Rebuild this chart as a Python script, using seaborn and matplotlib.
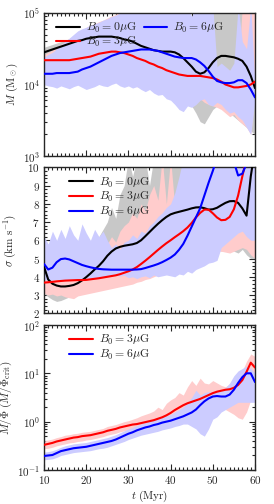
import numpy as np
import pandas as pd
import matplotlib
matplotlib.use("Agg")
import matplotlib.pyplot as plt
import seaborn as sns
from matplotlib.ticker import MultipleLocator, LogLocator, NullFormatter

sns.set_style("ticks")
plt.rcParams["font.family"] = "serif"
plt.rcParams["font.serif"] = ["cmr10", "DejaVu Serif"]
plt.rcParams["mathtext.fontset"] = "cm"
plt.rcParams["axes.formatter.use_mathtext"] = True
plt.rcParams["axes.unicode_minus"] = False

# time axis (Myr)
t = np.arange(10, 61)

# ---------- Panel 1: log10 mass (Msun) ----------
logM_0 = [4.45,4.47,4.49,4.51,4.53,4.55,4.57,4.59,4.61,4.62,
          4.64,4.65,4.66,4.67,4.67,4.67,4.67,4.66,4.65,4.63,
          4.62,4.60,4.57,4.54,4.52,4.50,4.48,4.47,4.46,4.46,
          4.46,4.45,4.42,4.37,4.31,4.25,4.18,4.15,4.17,4.23,
          4.31,4.37,4.40,4.40,4.39,4.38,4.36,4.33,4.25,4.12,3.95]
logM_3 = [4.34,4.34,4.34,4.34,4.34,4.34,4.34,4.35,4.36,4.37,
          4.38,4.39,4.41,4.43,4.44,4.45,4.46,4.46,4.45,4.44,
          4.42,4.40,4.37,4.35,4.33,4.30,4.28,4.25,4.23,4.20,
          4.18,4.16,4.14,4.13,4.12,4.12,4.12,4.12,4.11,4.10,
          4.09,4.07,4.04,4.00,3.98,3.96,3.96,3.97,3.98,4.00,4.04]
logM_6 = [4.15,4.15,4.15,4.16,4.16,4.16,4.16,4.17,4.18,4.21,
          4.23,4.25,4.28,4.31,4.34,4.37,4.40,4.42,4.44,4.45,
          4.46,4.47,4.48,4.49,4.49,4.49,4.48,4.47,4.45,4.43,
          4.41,4.39,4.38,4.37,4.37,4.37,4.35,4.31,4.26,4.19,
          4.11,4.05,4.03,4.02,4.02,4.03,4.06,4.06,4.02,3.93,3.82]
logM_0_lo = [4.36,4.37,4.38,4.40,4.41,4.43,4.44,4.46,4.47,4.49,
             4.50,4.51,4.51,4.52,4.50,4.45,4.40,4.32,4.25,4.20,
             4.15,4.10,4.05,3.98,3.95,3.98,3.95,3.92,3.90,3.88,
             3.85,3.82,3.75,3.80,3.82,3.70,3.60,3.48,3.45,3.55,
             3.65,3.70,3.68,3.62,3.60,3.55,3.50,3.45,3.40,3.35,3.30]
logM_0_hi = [4.52,4.54,4.56,4.58,4.60,4.62,4.64,4.67,4.70,4.72,
             4.74,4.76,4.78,4.80,4.82,4.84,4.86,4.88,4.91,4.94,
             4.97,5.10,5.10,5.10,5.10,5.10,5.10,5.10,5.10,5.10,
             5.10,5.10,5.10,5.10,4.95,4.85,4.90,5.10,5.10,5.10,
             5.10,5.10,5.10,5.10,5.10,5.10,5.10,5.10,5.10,5.10,5.10]
logM_3_lo = [4.05,4.03,4.02,4.00,4.02,4.03,4.02,4.05,4.06,4.04,
             4.03,4.05,4.04,4.06,4.05,4.10,4.12,4.08,4.05,4.02,
             4.00,3.98,3.97,3.95,3.96,3.98,3.95,3.92,3.90,3.92,
             3.88,3.85,3.85,3.80,3.82,3.75,3.78,3.80,3.75,3.72,
             3.70,3.68,3.65,3.60,3.55,3.58,3.50,3.45,3.40,3.30,3.90]
logM_3_hi = [4.42,4.45,4.48,4.52,4.56,4.60,4.64,4.68,4.72,4.76,
             4.80,4.83,4.85,4.88,4.90,4.93,4.96,4.98,5.10,5.10,
             5.10,5.10,5.10,5.10,5.10,5.10,5.10,5.10,5.10,5.10,
             5.10,5.10,5.10,5.10,4.60,4.60,4.20,4.18,4.15,4.15,
             4.12,4.12,4.10,4.10,4.12,4.15,4.20,5.10,5.10,5.10,5.10]
logM_6_lo = [4.00,3.98,3.97,3.95,3.98,3.96,3.94,3.97,3.99,3.96,
             3.93,3.95,3.97,4.00,3.98,3.97,4.00,4.02,3.98,3.96,
             3.98,3.95,3.97,3.93,3.90,3.93,3.88,3.85,3.86,3.80,
             3.78,3.72,3.65,3.62,3.70,3.68,3.72,3.78,3.80,3.72,
             3.70,3.75,3.72,3.65,3.60,3.62,3.55,3.50,3.40,3.30,3.80]
logM_6_hi = [4.38,4.42,4.45,4.50,4.55,4.60,4.65,4.70,4.75,4.78,
             4.80,4.83,4.85,4.87,4.90,4.92,4.95,4.97,5.00,5.10,
             5.10,5.10,5.10,5.10,5.10,5.10,5.10,5.10,5.10,5.10,
             5.10,5.10,5.10,5.10,5.10,4.95,5.10,5.10,5.10,5.10,
             5.10,4.25,4.30,4.25,4.20,4.30,5.10,4.60,4.50,5.10,4.00]

# ---------- Panel 2: velocity dispersion (km/s) ----------
sig_0 = [4.55,3.85,3.62,3.52,3.47,3.47,3.50,3.55,3.65,3.80,
         3.98,4.18,4.40,4.60,4.85,5.15,5.38,5.55,5.64,5.70,
         5.74,5.78,5.85,6.00,6.22,6.45,6.68,6.90,7.10,7.28,
         7.42,7.50,7.56,7.62,7.68,7.75,7.80,7.81,7.76,7.68,
         7.70,7.78,7.92,8.05,8.14,8.15,8.05,7.75,7.35,9.50,11.0]
sig_3 = [3.68,3.70,3.72,3.75,3.77,3.79,3.80,3.81,3.82,3.82,
         3.83,3.86,3.89,3.92,3.96,4.00,4.04,4.08,4.14,4.22,
         4.30,4.40,4.53,4.70,4.88,5.07,5.27,5.47,5.66,5.84,
         6.00,6.17,6.33,6.50,6.70,6.95,7.25,7.50,7.68,7.68,
         7.48,7.25,7.10,7.12,7.28,7.70,8.45,9.50,10.5,11.0,11.0]
sig_6 = [4.70,4.40,4.50,4.80,4.97,5.00,4.95,4.85,4.75,4.65,
         4.58,4.52,4.47,4.43,4.41,4.40,4.39,4.39,4.39,4.39,
         4.39,4.39,4.40,4.42,4.48,4.55,4.62,4.70,4.80,4.92,
         5.05,5.22,5.48,5.80,6.25,6.75,7.25,7.75,8.45,9.15,
         9.80,10.5,11.0,11.0,11.0,10.3,9.55,9.65,10.2,11.0,11.0]
sig_0_lo = [3.10,2.90,2.75,2.65,2.70,2.80,2.90,3.00,3.10,3.20,
            3.35,3.50,3.65,3.80,4.00,4.20,4.40,4.60,4.80,4.90,
            5.00,5.00,4.90,4.95,5.10,5.20,5.35,5.50,5.60,5.70,
            5.80,5.80,5.60,5.50,5.70,5.60,5.50,5.60,5.40,5.50,
            5.50,5.60,5.40,5.50,5.60,5.40,5.30,5.50,5.20,5.00,5.00]
sig_0_hi = [5.00,4.80,4.60,4.50,4.60,4.70,4.80,4.90,5.00,5.20,
            5.40,5.60,5.80,6.20,6.60,7.00,7.80,7.20,8.50,9.00,
            10.5,9.50,10.5,10.0,10.5,9.00,10.5,10.5,9.80,10.5,
            10.5,10.5,10.5,10.5,10.5,10.5,10.5,10.5,10.5,10.5,
            10.5,10.5,10.5,10.5,10.5,10.5,10.5,10.5,10.5,10.5,10.5]
sig_3_lo = [3.10,3.00,3.05,2.95,3.00,2.90,2.85,2.80,2.95,3.00,
            3.05,3.10,3.15,3.20,3.25,3.30,3.35,3.40,3.45,3.50,
            3.55,3.60,3.70,3.75,3.85,3.90,4.00,4.10,4.15,4.20,
            4.30,4.40,4.50,4.60,4.70,4.80,4.90,5.00,5.10,5.20,
            5.30,5.40,5.40,5.35,5.30,5.40,5.50,5.60,5.50,5.20,5.00]
sig_3_hi = [4.30,4.40,4.50,4.40,4.60,4.50,4.70,4.60,4.80,4.70,
            4.90,5.00,5.20,5.30,5.50,5.80,6.20,5.90,6.50,6.80,
            7.00,7.50,7.20,8.00,7.60,8.50,9.00,8.20,10.5,8.00,
            10.5,7.80,8.50,7.50,8.00,10.5,8.00,7.50,7.00,7.50,
            8.00,7.50,7.50,7.00,7.50,7.00,7.50,7.00,10.5,10.5,10.5]
sig_6_lo = [3.85,3.80,3.82,3.86,3.80,3.84,3.82,3.86,3.84,3.88,
            3.90,3.92,3.95,3.97,4.00,4.02,4.05,4.07,4.05,4.08,
            3.95,4.00,3.90,4.00,4.05,3.95,4.10,4.00,4.05,4.10,
            4.05,4.00,4.15,4.10,4.30,4.20,4.40,4.50,4.60,4.75,
            4.80,4.90,5.60,5.80,6.00,6.20,6.40,6.50,6.20,6.00,6.00]
sig_6_hi = [6.20,5.80,6.50,6.00,6.60,6.10,6.80,6.30,6.00,6.90,
            6.40,6.00,6.60,6.20,6.50,6.00,5.60,5.80,5.50,5.90,
            6.00,6.30,6.10,6.50,6.40,6.80,7.00,7.30,7.50,7.80,
            8.00,8.60,9.50,10.5,10.5,10.5,10.5,10.5,10.5,10.5,
            10.5,10.5,10.5,10.5,10.5,10.5,10.5,10.5,10.5,10.5,10.5]

# ---------- Panel 3: log10 mass-to-flux ratio ----------
logMF_3 = [-0.48,-0.46,-0.44,-0.41,-0.39,-0.37,-0.35,-0.33,-0.32,-0.30,
           -0.29,-0.28,-0.26,-0.24,-0.22,-0.19,-0.17,-0.15,-0.12,-0.10,
           -0.08,-0.06,-0.05,-0.03,-0.01,0.01,0.03,0.06,0.09,0.13,
           0.18,0.24,0.29,0.34,0.38,0.41,0.44,0.47,0.51,0.55,
           0.59,0.62,0.64,0.66,0.67,0.70,0.76,0.86,1.03,1.22,1.12]
logMF_6 = [-0.71,-0.70,-0.69,-0.65,-0.61,-0.59,-0.57,-0.55,-0.54,-0.53,
           -0.52,-0.50,-0.48,-0.46,-0.44,-0.42,-0.40,-0.37,-0.33,-0.29,
           -0.25,-0.22,-0.18,-0.15,-0.12,-0.10,-0.07,-0.05,-0.02,0.00,
           0.02,0.05,0.08,0.11,0.15,0.19,0.25,0.34,0.42,0.48,
           0.52,0.53,0.52,0.52,0.56,0.66,0.80,0.92,1.00,1.00,0.82]
logMF_3_lo = [-0.56,-0.55,-0.53,-0.50,-0.48,-0.46,-0.44,-0.43,-0.41,-0.40,
              -0.38,-0.37,-0.35,-0.33,-0.31,-0.28,-0.26,-0.24,-0.21,-0.19,
              -0.17,-0.15,-0.13,-0.12,-0.10,-0.15,-0.20,-0.12,-0.02,0.00,
              0.05,0.10,0.15,0.20,0.15,0.25,0.20,0.30,0.35,0.40,
              0.40,0.45,0.30,0.25,0.20,0.15,0.08,0.05,0.20,0.45,0.60]
logMF_3_hi = [-0.40,-0.38,-0.36,-0.33,-0.31,-0.28,-0.27,-0.25,-0.24,-0.22,
              -0.21,-0.20,-0.18,-0.16,-0.14,-0.10,-0.08,-0.06,-0.03,0.00,
              0.02,0.05,0.08,0.12,0.15,0.18,0.22,0.30,0.25,0.38,
              0.45,0.50,0.60,0.55,0.72,0.85,0.75,0.90,0.80,0.78,
              0.85,0.80,0.75,0.72,0.78,0.85,0.95,1.05,1.25,1.40,1.35]
logMF_6_lo = [-0.79,-0.78,-0.77,-0.74,-0.70,-0.68,-0.66,-0.64,-0.63,-0.62,
              -0.61,-0.60,-0.58,-0.56,-0.55,-0.53,-0.50,-0.47,-0.44,-0.41,
              -0.37,-0.34,-0.31,-0.28,-0.26,-0.24,-0.22,-0.20,-0.17,-0.15,
              -0.13,-0.10,-0.08,-0.05,-0.05,-0.10,-0.15,-0.25,-0.30,-0.15,
              0.05,0.10,0.20,0.25,0.30,0.35,0.40,0.40,0.40,0.40,0.40]
logMF_6_hi = [-0.63,-0.62,-0.60,-0.57,-0.53,-0.50,-0.48,-0.46,-0.45,-0.44,
              -0.43,-0.41,-0.39,-0.37,-0.35,-0.33,-0.30,-0.27,-0.23,-0.19,
              -0.15,-0.12,-0.08,-0.05,-0.02,0.01,0.04,0.06,0.09,0.12,
              0.15,0.20,0.25,0.30,0.40,0.50,0.65,0.55,0.60,0.62,
              0.60,0.62,0.65,0.70,0.80,0.95,1.05,1.10,1.15,1.10,1.00]

labels = {0: r"$B_0 = 0\mu{\rm G}$", 3: r"$B_0 = 3\mu{\rm G}$", 6: r"$B_0 = 6\mu{\rm G}$"}
line_c = {0: "black", 3: "red", 6: "blue"}
fill_c = {0: "#c8c8c8", 3: "#ffcccc", 6: "#ccccff"}

fig = plt.figure(figsize=(2.74, 5.04), dpi=100)
left, width = 0.1606, 0.770
ax1 = fig.add_axes([left, 0.6905, width, 0.2837])
ax2 = fig.add_axes([left, 0.3784, width, 0.2897])
ax3 = fig.add_axes([left, 0.0675, width, 0.2877])

FS = 8

def draw(ax, series, log):
    for k, (y, lo, hi) in series.items():
        lo, hi = np.asarray(lo), np.asarray(hi)
        if log:
            lo, hi = 10**lo, 10**hi
        ax.fill_between(t, lo, hi, color=fill_c[k], lw=0, zorder=1 + k / 10)
    handles = []
    for k, (y, lo, hi) in series.items():
        y = np.asarray(y)
        if log:
            y = 10**y
        df = pd.DataFrame({"t": t, "v": y})
        sns.lineplot(data=df, x="t", y="v", ax=ax, color=line_c[k], lw=1.5,
                     label=labels[k], zorder=5, legend=False)
        handles.append(ax.lines[-1])
    return handles

h1 = draw(ax1, {0: (logM_0, logM_0_lo, logM_0_hi),
                3: (logM_3, logM_3_lo, logM_3_hi),
                6: (logM_6, logM_6_lo, logM_6_hi)}, True)
h2 = draw(ax2, {0: (sig_0, sig_0_lo, sig_0_hi),
                3: (sig_3, sig_3_lo, sig_3_hi),
                6: (sig_6, sig_6_lo, sig_6_hi)}, False)
h3 = draw(ax3, {3: (logMF_3, logMF_3_lo, logMF_3_hi),
                6: (logMF_6, logMF_6_lo, logMF_6_hi)}, True)

for ax in (ax1, ax2, ax3):
    ax.set_xlim(10, 60)
    ax.xaxis.set_major_locator(MultipleLocator(10))
    ax.xaxis.set_minor_locator(MultipleLocator(1))
    ax.tick_params(which="both", direction="in", top=True, right=True,
                   labelsize=FS, width=0.8, pad=3)
    ax.tick_params(which="major", length=4)
    ax.tick_params(which="minor", length=2)
    for s in ax.spines.values():
        s.set_linewidth(1.0)
    ax.set_xlabel("")

ax1.set_yscale("log")
ax1.set_ylim(1e3, 1e5)
ax3.set_yscale("log")
ax3.set_ylim(1e-1, 1e2)
for ax in (ax1, ax3):
    ax.yaxis.set_major_locator(LogLocator(base=10, numticks=10))
    ax.yaxis.set_minor_locator(LogLocator(base=10, subs=np.arange(2, 10), numticks=20))
    ax.yaxis.set_minor_formatter(NullFormatter())
ax2.set_ylim(2, 10)
ax2.yaxis.set_major_locator(MultipleLocator(1))
ax2.yaxis.set_minor_locator(MultipleLocator(0.2))

ax1.tick_params(labelbottom=False)
ax2.tick_params(labelbottom=False)

ax1.set_ylabel(r"$M\ (\mathrm{M_\odot})$", fontsize=FS, labelpad=2)
ax2.set_ylabel(r"$\sigma\ (\mathrm{km\ s^{-1}})$", fontsize=FS, labelpad=6)
ax3.set_ylabel(r"$M/\Phi\ (M/\Phi_{\rm crit})$", fontsize=FS, labelpad=2)
ax3.set_xlabel(r"$t\ (\mathrm{Myr})$", fontsize=FS, labelpad=2)

leg_kw = dict(frameon=False, fontsize=8.5, handlelength=2.0, handletextpad=0.5,
              borderaxespad=0.3)
ax1.legend(handles=h1, labels=[labels[0], labels[3], labels[6]], ncol=2,
           loc="upper left", labelspacing=0.0, columnspacing=0.6,
           bbox_to_anchor=(0.02, 1.0), **leg_kw)
ax2.legend(handles=h2, labels=[labels[0], labels[3], labels[6]], loc="upper left",
           labelspacing=0.05, bbox_to_anchor=(0.08, 1.0), **leg_kw)
ax3.legend(handles=h3, labels=[labels[3], labels[6]], loc="upper left",
           labelspacing=0.05, bbox_to_anchor=(0.08, 1.0), **leg_kw)

fig.savefig("out.png", dpi=100)
